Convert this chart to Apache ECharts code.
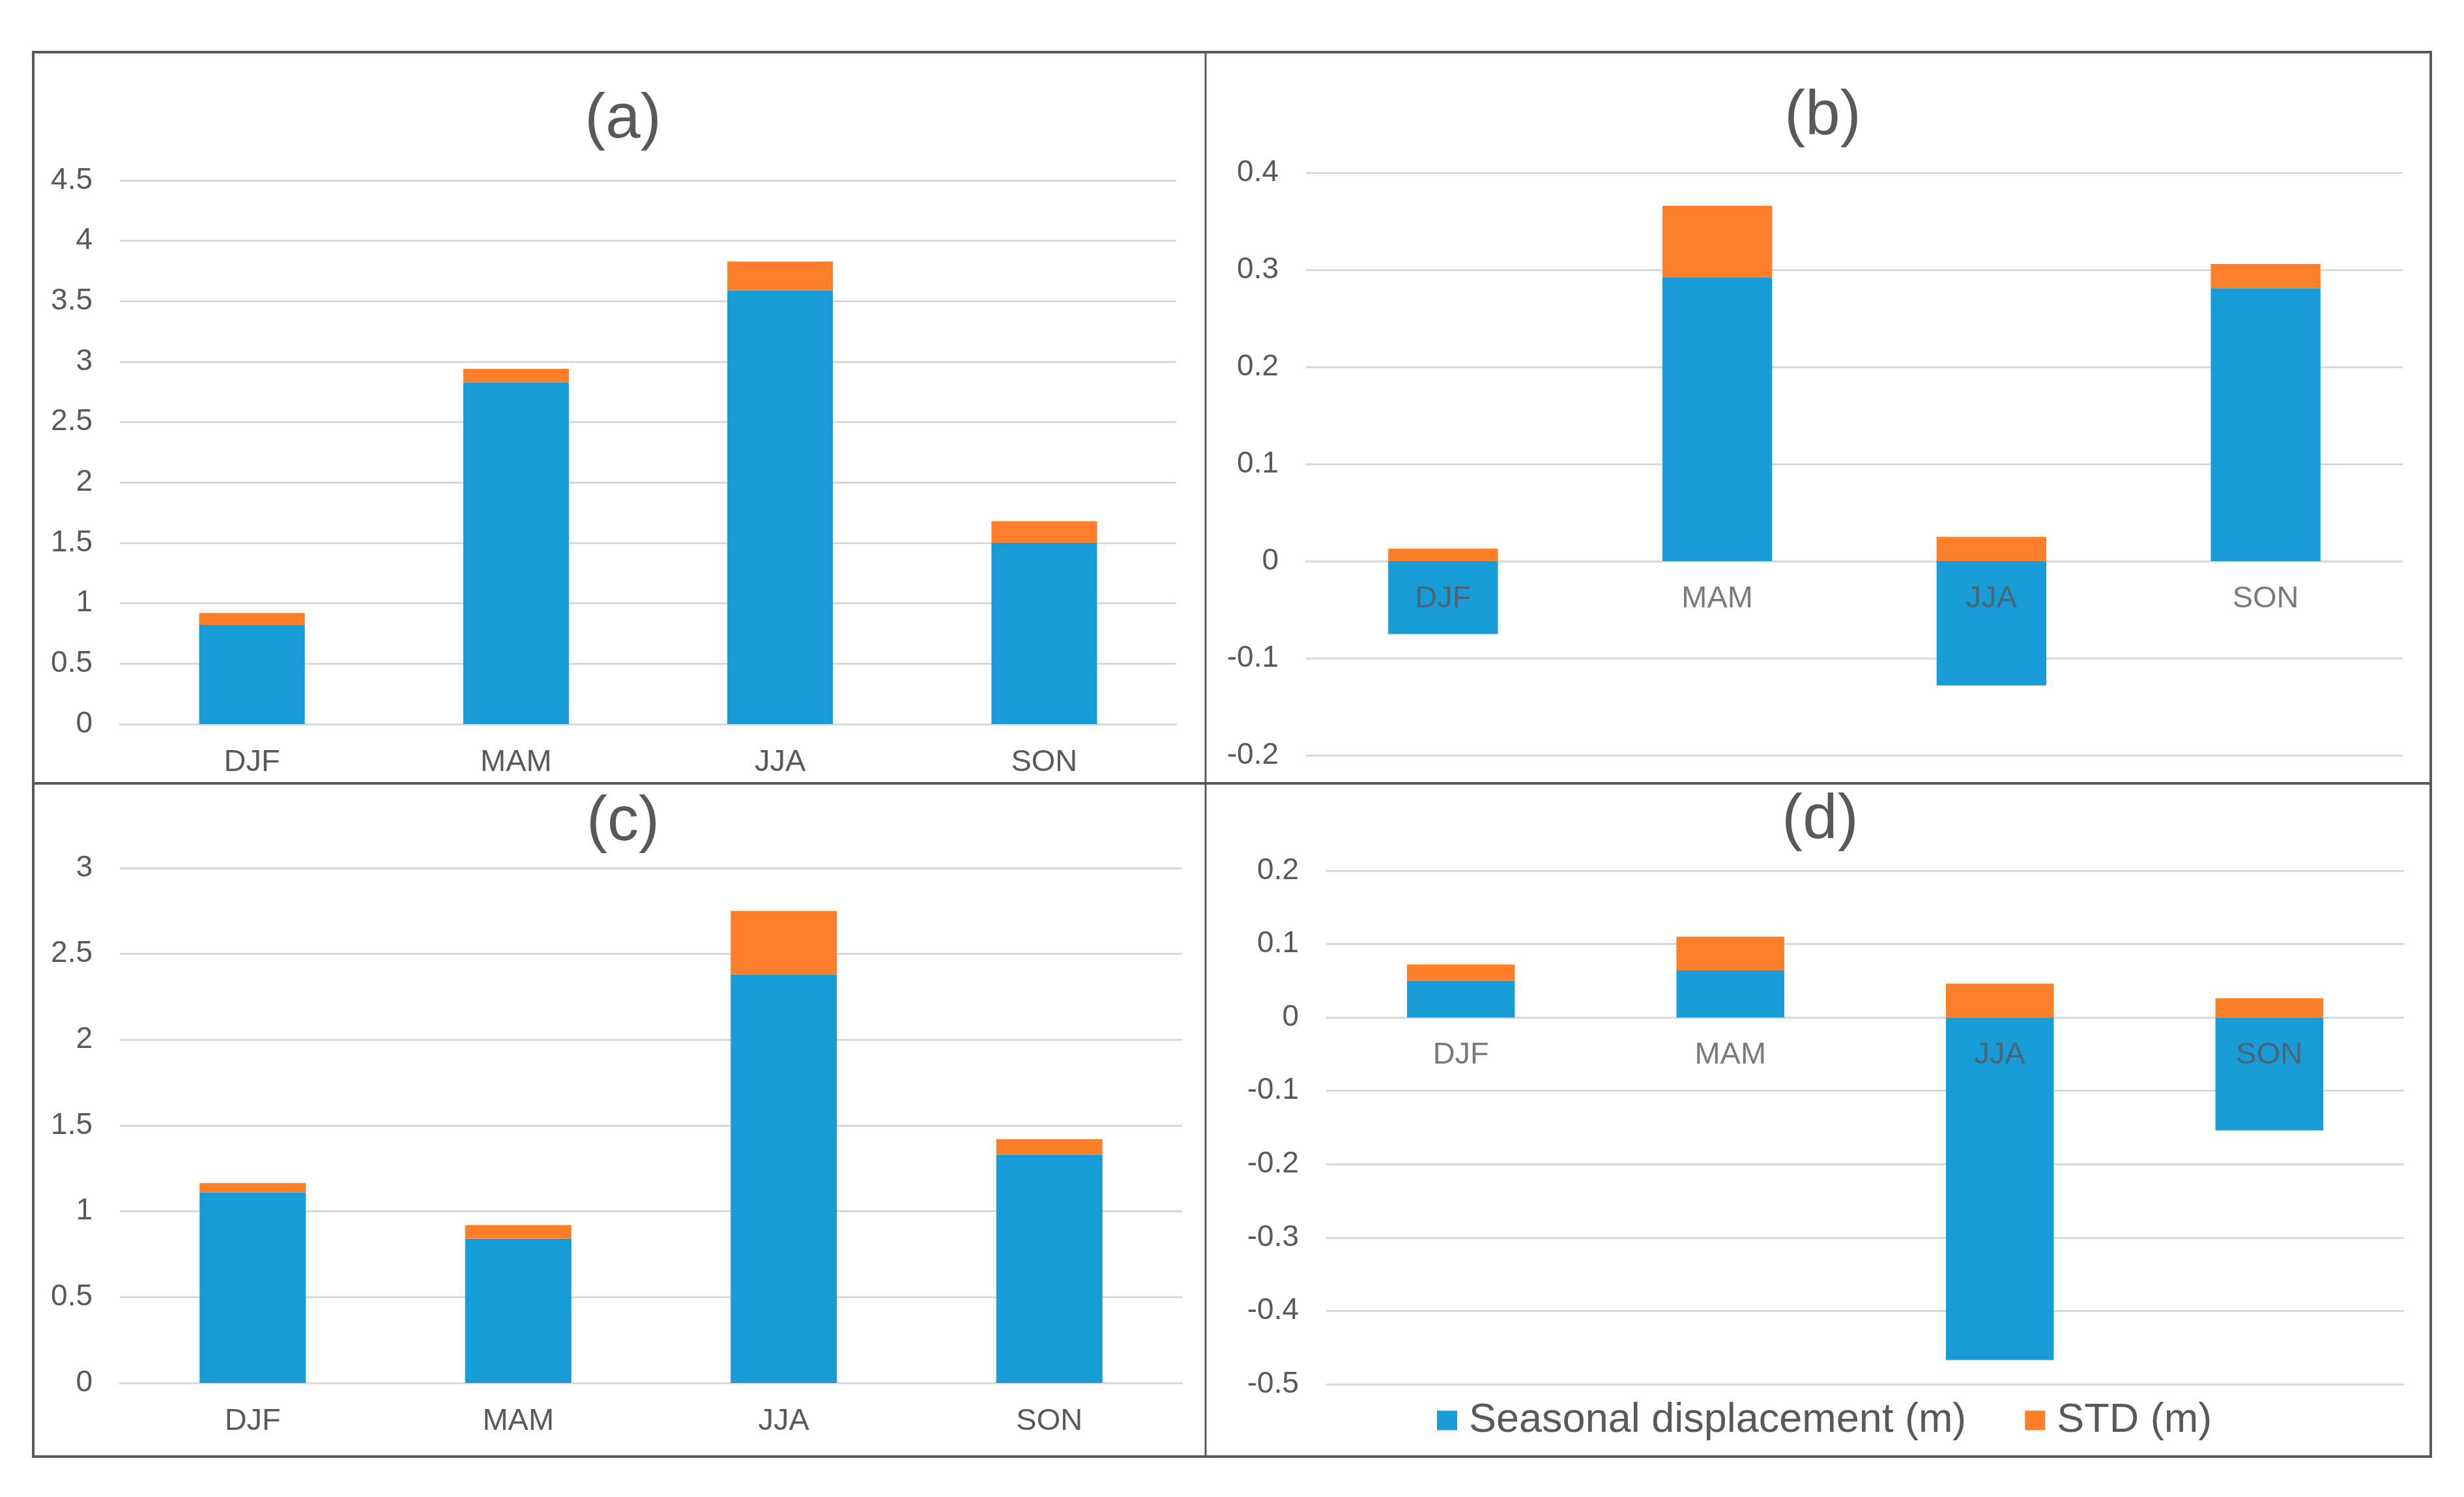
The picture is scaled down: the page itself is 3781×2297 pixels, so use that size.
<!DOCTYPE html>
<html>
<head>
<meta charset="utf-8">
<script src="https://cdn.jsdelivr.net/npm/echarts@6/dist/echarts.min.js"></script>
<style>
html,body{margin:0;padding:0;background:#fff;}
#chart{width:3781px;height:2297px;}
</style>
</head>
<body>
<div id="chart"></div>
<script>
var categories = ['DJF', 'MAM', 'JJA', 'SON'];
var panelTitles = ['(a)', '(b)', '(c)', '(d)'];
var seriesNames = ['Seasonal displacement (m)', 'STD (m)'];

var dispA = [0.82, 2.83, 3.59, 1.50];
var stdA  = [0.10, 0.11, 0.24, 0.18];
var dispB = [-0.075, 0.292, -0.128, 0.281];
var stdB  = [0.013, 0.074, 0.025, 0.025];
var dispC = [1.11, 0.84, 2.38, 1.33];
var stdC  = [0.055, 0.08, 0.37, 0.09];
var dispD = [0.05, 0.064, -0.467, -0.154];
var stdD  = [0.022, 0.046, 0.046, 0.026];
var labelBaseline = [0, 0, 0, 0];

var yMin = [0, -0.2, 0, -0.5];
var yMax = [4.5, 0.4, 3, 0.2];
var yStep = [0.5, 0.1, 0.5, 0.1];

var BLUE = '#189CD8', ORANGE = '#FE7F2A', TXT = '#595959', GRIDC = '#D9D9D9', BORDER = '#595959';
var FONT = '"Liberation Sans", Arial, sans-serif';
var XFS = 47, YFS = 46;

var grids = [
  {left: 184, right: 1976, top: 277, bottom: 1186},
  {left: 2004, right: 94, top: 265, bottom: 1138},
  {left: 184, right: 1967, top: 1332, bottom: 175},
  {left: 2035, right: 92, top: 1336, bottom: 173}
];
var titlePos = [[951, 132], [2792, 127], [951, 1210], [2788, 1207]];
var disp = [dispA, dispB, dispC, dispD];
var std = [stdA, stdB, stdC, stdD];
var labelsOnZero = [false, true, false, true];

var xAxes = [], yAxes = [], series = [], titles = [];
for (var i = 0; i < 4; i++) {
  xAxes.push({
    type: 'category', gridIndex: i, data: categories,
    axisLine: {show: !labelsOnZero[i], lineStyle: {color: GRIDC, width: 3}},
    axisTick: {show: false},
    axisLabel: {show: !labelsOnZero[i], color: TXT, fontSize: XFS, fontFamily: FONT, margin: 36}
  });
  yAxes.push({
    type: 'value', gridIndex: i, min: yMin[i], max: yMax[i], interval: yStep[i],
    axisLine: {show: false}, axisTick: {show: false},
    splitLine: {lineStyle: {color: GRIDC, width: 3}},
    axisLabel: {color: TXT, fontSize: YFS, fontFamily: FONT, margin: 42}
  });
  series.push({
    name: seriesNames[0], type: 'bar', stack: 's' + i, xAxisIndex: i, yAxisIndex: i,
    barWidth: '40%', itemStyle: {color: BLUE}, data: disp[i]
  });
  series.push({
    name: seriesNames[1], type: 'bar', stack: 's' + i, xAxisIndex: i, yAxisIndex: i,
    barWidth: '40%', itemStyle: {color: ORANGE}, data: std[i]
  });
  if (labelsOnZero[i]) {
    series.push({
      name: 'catLabels' + i, type: 'scatter', xAxisIndex: i, yAxisIndex: i, z: 5,
      symbol: 'rect', symbolSize: 1, itemStyle: {color: 'rgba(0,0,0,0)'}, silent: true,
      label: {show: true, position: 'bottom', distance: 34, formatter: '{b}',
              color: TXT, fontSize: XFS, fontFamily: FONT},
      labelLayout: {hideOverlap: false},
      data: labelBaseline.map(function (v, k) { return {name: categories[k], value: [k, v]}; })
    });
  }
  titles.push({
    text: panelTitles[i], left: titlePos[i][0], top: titlePos[i][1], textAlign: 'center',
    textStyle: {color: TXT, fontSize: 96, fontWeight: 'normal', fontFamily: FONT}
  });
}

var chart = echarts.init(document.getElementById('chart'));
chart.setOption({
  animation: false,
  backgroundColor: '#fff',
  title: titles,
  grid: grids,
  xAxis: xAxes,
  yAxis: yAxes,
  series: series,
  legend: {
    data: seriesNames, left: 2200, top: 2143, icon: 'rect',
    itemWidth: 31, itemHeight: 30, itemGap: 90,
    textStyle: {color: '#595959', fontSize: 63, fontFamily: FONT, padding: [0, 0, 0, 13]}
  },
  graphic: [
    {type: 'rect', shape: {x: 51, y: 80, width: 3679, height: 2155}, style: {fill: null, stroke: BORDER, lineWidth: 4}, silent: true},
    {type: 'line', shape: {x1: 1850, y1: 80, x2: 1850, y2: 2235}, style: {stroke: BORDER, lineWidth: 3}, silent: true},
    {type: 'line', shape: {x1: 51, y1: 1202, x2: 3730, y2: 1202}, style: {stroke: BORDER, lineWidth: 4}, silent: true}
  ]
});
</script>
</body>
</html>
